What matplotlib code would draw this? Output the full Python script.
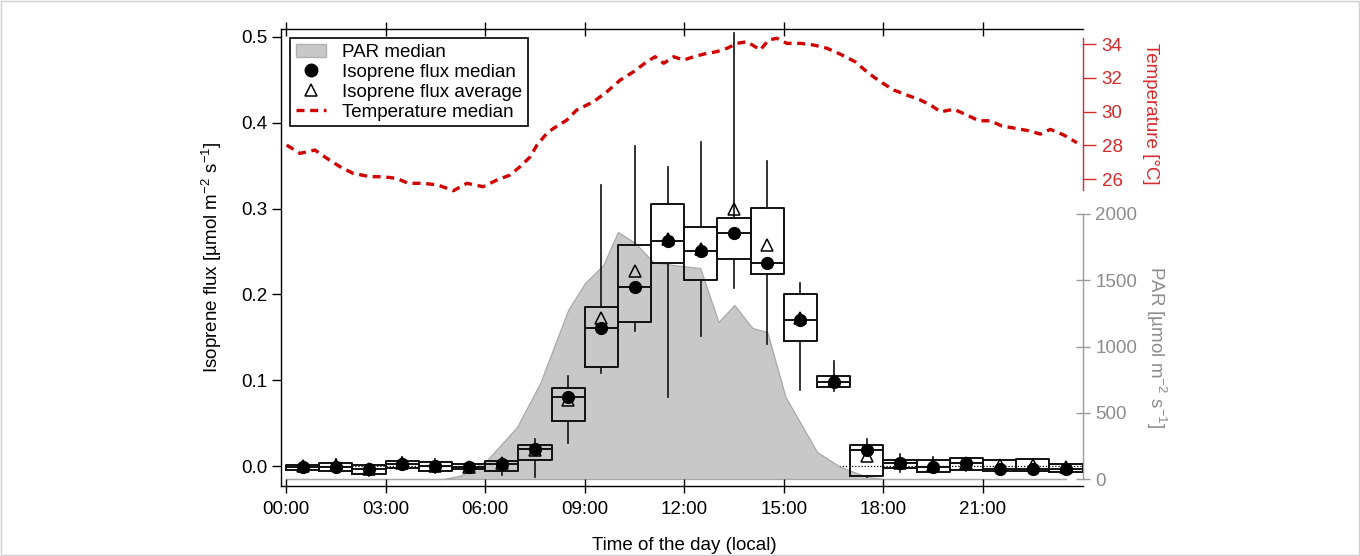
import matplotlib
matplotlib.use('Agg')
import matplotlib.pyplot as plt
from matplotlib.patches import Patch, Rectangle
from matplotlib.lines import Line2D

plt.rcParams['font.family'] = ['Liberation Sans', 'DejaVu Sans']
plt.rcParams['mathtext.fontset'] = 'custom'
plt.rcParams['mathtext.rm'] = 'Liberation Sans'
plt.rcParams['mathtext.default'] = 'regular'

# ---------------- data ----------------
hour_centers = [0.5, 1.5, 2.5, 3.5, 4.5, 5.5, 6.5, 7.5, 8.5, 9.5, 10.5, 11.5,
                12.5, 13.5, 14.5, 15.5, 16.5, 17.5, 18.5, 19.5, 20.5, 21.5, 22.5, 23.5]
flux_whis_hi = [0.005, 0.008, 0.002, 0.010, 0.008, 0.004, 0.0085, 0.031, 0.105, 0.328, 0.373, 0.349,
                0.378, 0.505, 0.355, 0.213, 0.122, 0.031, 0.014, 0.010, 0.009, 0.007, 0.008, 0.004]
flux_q3 = [0.0015, 0.003, 0.0012, 0.0062, 0.0043, 0.0027, 0.0055, 0.0245, 0.0913, 0.1855, 0.258, 0.305,
           0.279, 0.2886, 0.3005, 0.201, 0.1053, 0.0247, 0.0073, 0.0073, 0.0089, 0.0066, 0.0081, 0.0027]
flux_median = [-0.001, -0.001, -0.0035, 0.0023, 0.000, -0.0015, 0.002, 0.0195, 0.080, 0.161, 0.2087, 0.262,
               0.251, 0.272, 0.237, 0.170, 0.098, 0.0185, 0.003, -0.001, 0.0035, -0.0035, -0.0035, -0.003]
flux_q1 = [-0.0046, -0.0054, -0.0093, -0.0023, -0.0058, -0.0039, -0.0055, 0.007, 0.0528, 0.115, 0.1675, 0.237,
           0.2164, 0.2407, 0.2234, 0.1458, 0.0918, -0.0112, -0.0027, -0.0066, -0.0043, -0.0054, -0.0058, -0.0066]
flux_whis_lo = [-0.006, -0.007, -0.0116, -0.004, -0.008, -0.005, -0.0105, -0.0124, 0.0264, 0.108, 0.157, 0.0807,
                0.151, 0.208, 0.142, 0.089, 0.087, -0.013, -0.0066, -0.008, -0.006, -0.007, -0.007, -0.008]
flux_mean = [0.000, 0.001, -0.003, 0.003, 0.000, -0.001, 0.003, 0.019, 0.077, 0.172, 0.227, 0.264,
             0.253, 0.2994, 0.258, 0.173, 0.099, 0.012, 0.004, 0.001, 0.004, 0.001, 0.001, -0.001]

par_hours = [0.0, 4.75, 5.25, 6.06, 6.96, 7.66, 8.50, 9.01, 9.56, 10.0, 10.52, 11.06, 11.66, 12.48,
             13.03, 13.51, 14.05, 14.5, 15.05, 16.0, 16.7, 17.52, 18.0, 23.5]
par_values = [0, 0, 25, 143, 392, 725, 1275, 1479, 1615, 1864, 1781, 1638, 1615, 1592,
              1185, 1313, 1140, 1109, 619, 204, 91, 15, 0, 0]

temp_hours = [0.02, 0.42, 0.87, 1.23, 1.63, 2.02, 2.53, 2.92, 3.34, 3.68, 4.13, 4.58, 5.04, 5.45, 5.94,
              6.35, 6.75, 7.05, 7.36, 7.56, 7.86, 8.06, 8.46, 8.76, 9.27, 9.67, 10.07, 10.47, 10.87,
              11.12, 11.38, 11.68, 11.98, 12.28, 12.68, 12.98, 13.29, 13.59, 13.89, 14.29, 14.54, 14.79,
              15.09, 15.5, 15.9, 16.3, 16.7, 17.15, 17.56, 17.91, 18.31, 18.71, 19.11, 19.42, 19.72,
              20.12, 20.52, 20.87, 21.22, 21.57, 21.98, 22.38, 22.73, 23.03, 23.43, 23.83]
temp_values = [28.02, 27.53, 27.73, 27.24, 26.74, 26.35, 26.15, 26.15, 26.05, 25.76, 25.76, 25.66, 25.32,
               25.76, 25.56, 25.95, 26.25, 26.74, 27.33, 28.02, 28.72, 29.01, 29.5, 30.1, 30.59, 31.18,
               31.87, 32.36, 32.95, 33.25, 32.86, 33.25, 33.05, 33.25, 33.45, 33.55, 33.75, 34.04, 34.14,
               33.65, 34.24, 34.34, 34.04, 34.04, 33.94, 33.75, 33.4, 32.95, 32.26, 31.77, 31.28, 30.98,
               30.69, 30.39, 29.99, 30.14, 29.8, 29.46, 29.46, 29.15, 29.01, 28.87, 28.67, 28.95, 28.62, 28.16]

x_ticks = [0, 3, 6, 9, 12, 15, 18, 21]
x_ticklabels = ['00:00', '03:00', '06:00', '09:00', '12:00', '15:00', '18:00', '21:00']
flux_ticks = [0.0, 0.1, 0.2, 0.3, 0.4, 0.5]
par_ticks = [0, 500, 1000, 1500, 2000]
temp_ticks = [26, 28, 30, 32, 34]

# ---------------- styling ----------------
W, H = 1360, 556
RED = '#d42a2a'
PAR_FILL = '#c8c8c8'
PAR_AX = '#9c9c9c'
FS_TICK = 13.5
FS_LAB = 13.5

fig = plt.figure(figsize=(W / 100, H / 100), dpi=100)
rect = [281 / W, 1 - 486 / H, (1083 - 281) / W, (486 - 29) / H]
ax_par = fig.add_axes(rect)
ax_t = fig.add_axes(rect)
ax = fig.add_axes(rect)
for a in (ax_t, ax):
    a.patch.set_visible(False)

xlim = (-0.151, 24.013)
for a in (ax_par, ax_t, ax):
    a.set_xlim(*xlim)

# ---- PAR (bottom layer) ----
ax_par.set_ylim(-52.8, 3396.2)
ax_par.fill_between(par_hours, 0, par_values, facecolor=PAR_FILL, edgecolor='#a8a8a8',
                    linewidth=0.9, zorder=2)
for s in ('left', 'top', 'bottom'):
    ax_par.spines[s].set_visible(False)
ax_par.spines['right'].set_bounds(0, 2000)
ax_par.spines['right'].set_color(PAR_AX)
ax_par.spines['right'].set_linewidth(1.0)
ax_par.yaxis.tick_right()
ax_par.set_yticks(par_ticks)
ax_par.tick_params(axis='y', direction='inout', length=10, width=1.0, color=PAR_AX,
                   labelcolor='#8c8c8c', labelsize=FS_TICK, pad=4)
ax_par.tick_params(axis='x', bottom=False, labelbottom=False)

# ---- temperature ----
ax_t.set_ylim(7.85, 34.89)
ax_t.plot(temp_hours, temp_values, color='#d00000', lw=2.4, ls=(0, (2.4, 1.7)),
          dash_capstyle='butt', zorder=3)
for s in ('left', 'top', 'bottom'):
    ax_t.spines[s].set_visible(False)
ax_t.spines['right'].set_bounds(25.36, 34.355)
ax_t.spines['right'].set_color(RED)
ax_t.spines['right'].set_linewidth(1.0)
ax_t.yaxis.tick_right()
ax_t.set_yticks(temp_ticks)
ax_t.tick_params(axis='y', direction='out', length=9.4, width=1.0, color=RED,
                 labelcolor=RED, labelsize=FS_TICK, pad=4)
ax_t.tick_params(axis='x', bottom=False, labelbottom=False)

# ---- flux (top layer) ----
ax.set_ylim(-0.0233, 0.5093)
# dotted zero line, drawn behind the PAR fill
ax_par.plot([0, 24], [0, 0], transform=ax.transData, color='k', ls=(0, (1, 1.5)),
            lw=0.9, zorder=1)

stats = []
for i in range(len(hour_centers)):
    stats.append(dict(med=flux_median[i], q1=flux_q1[i], q3=flux_q3[i],
                      whislo=flux_whis_lo[i], whishi=flux_whis_hi[i], fliers=[]))
ax.bxp(stats, positions=hour_centers, widths=1.0, showfliers=False, showcaps=False,
       manage_ticks=False, patch_artist=False,
       boxprops=dict(color='#111111', linewidth=1.4),
       whiskerprops=dict(color='#111111', linewidth=1.2),
       medianprops=dict(color='#111111', linewidth=1.4))
ax.plot(hour_centers, flux_mean, ls='none', marker='^', ms=8.5, mfc='none', mec='k', mew=1.1, zorder=4)
ax.plot(hour_centers, flux_median, ls='none', marker='o', ms=8.5, color='k', zorder=5)

ax.spines['right'].set_visible(False)
for s in ('left', 'top', 'bottom'):
    ax.spines[s].set_linewidth(1.0)
ax.set_xticks(x_ticks)
ax.set_xticklabels(x_ticklabels)
ax.tick_params(axis='x', which='both', direction='inout', length=10, width=1.0,
               top=True, bottom=True, labelsize=FS_TICK, pad=6)
ax.set_yticks(flux_ticks)
ax.set_yticklabels(['%.1f' % v for v in flux_ticks])
ax.tick_params(axis='y', direction='out', length=6.5, width=1.0, labelsize=FS_TICK, pad=3)

# ---- legend ----
handles = [Patch(facecolor=PAR_FILL, edgecolor='#b0b0b0'),
           Line2D([], [], ls='none', marker='o', ms=9, color='k'),
           Line2D([], [], ls='none', marker='^', ms=9, mfc='none', mec='k', mew=1.1),
           Line2D([], [], color='#d00000', lw=2.4, ls=(0, (2.4, 1.7)))]
labels = ['PAR median', 'Isoprene flux median', 'Isoprene flux average', 'Temperature median']
leg = ax.legend(handles, labels, loc='upper left', bbox_to_anchor=(290 / W, 1 - 38 / H),
                bbox_transform=fig.transFigure, borderaxespad=0, fontsize=FS_LAB,
                frameon=True, fancybox=False, framealpha=1, edgecolor='k',
                handlelength=1.6, handletextpad=0.9, labelspacing=0.15, borderpad=0.3)
leg.get_frame().set_linewidth(1.2)

# ---- axis labels ----
fig.text(212 / W, 1 - 257 / H, r'Isoprene flux [µmol m$^{-2}$ s$^{-1}$]', rotation=90,
         ha='center', va='center', fontsize=FS_LAB)
fig.text(684 / W, 1 - 545 / H, 'Time of the day (local)', ha='center', va='center', fontsize=FS_LAB)
fig.text(1150 / W, 1 - 114 / H, 'Temperature [°C]', rotation=270, ha='center', va='center',
         fontsize=FS_LAB, color=RED)
fig.text(1156 / W, 1 - 347 / H, r'PAR [µmol m$^{-2}$ s$^{-1}$]', rotation=270, ha='center',
         va='center', fontsize=FS_LAB, color='#8c8c8c')

# thin frame around the figure
fig.patches.append(Rectangle((0.0005, 0.001), 0.999, 0.998, transform=fig.transFigure,
                             fill=False, edgecolor='#d0d0d0', linewidth=1.0))

fig.savefig('out.png', dpi=100)
